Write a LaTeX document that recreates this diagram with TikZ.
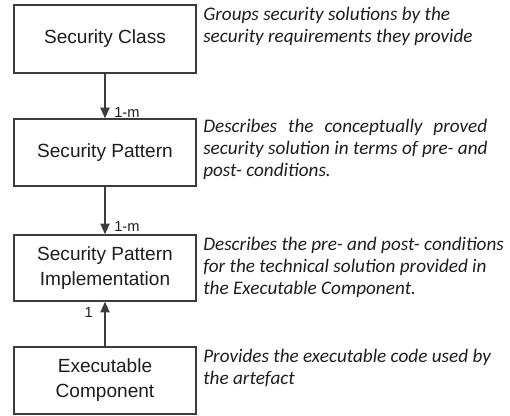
\documentclass[tikz,border=0pt]{standalone}
\usepackage{fontspec}
\setmainfont{Liberation Sans}
\newfontfamily\notefont{Carlito}
\usetikzlibrary{arrows.meta}
\definecolor{edge}{HTML}{3C3C3C}
\definecolor{ink}{HTML}{1E1E1E}
\tikzset{
  layer/.style={draw=edge, line width=1.1pt, fill=white, text=ink,
    minimum width=136.5pt, align=center, inner sep=0pt,
    font=\fontsize{14.3}{18.7}\selectfont},
  link/.style={draw=edge, line width=0.9pt,
    -{Triangle[width=7pt,length=8pt]}},
  mult/.style={text=ink, inner sep=0pt, font=\fontsize{11}{13}\selectfont},
  note/.style={text=ink, anchor=north west, inner sep=0pt, align=left,
    font=\notefont\itshape\fontsize{14.4}{16.5}\selectfont}
}
\begin{document}
\begin{tikzpicture}[x=0.75pt, y=-0.75pt]
  \useasboundingbox (0,0) rectangle (510,415);

  % the four layers of the model
  \node[layer, minimum height=51pt]    (cls)  at (105,39)    {Security Class};
  \node[layer, minimum height=50.25pt] (pat)  at (105,152.5) {Security Pattern};
  \node[layer, minimum height=49.5pt]  (impl) at (105,268)   {Security Pattern\\Implementation};
  \node[layer, minimum height=50.25pt] (exe)  at (105,380.5) {Executable\\Component};

  % relations with their multiplicities
  \draw[link] (cls) -- (pat);
  \draw[link] (pat) -- (impl);
  \draw[link] (exe) -- (impl);
  \node[mult, anchor=west] (m1) at (114,112.5) {1-m};
  \node[mult, anchor=west] (m2) at (114,226.5) {1-m};
  \node[mult, anchor=east] (m3) at (93,312)   {1};

  % descriptions beside each layer
  \node[note] (dcls) at (203,7)
    {Groups security solutions by the\\security requirements they provide};
  \node[note] (dpat) at (203,119)
    {\makebox[213pt][s]{Describes the conceptually proved}\\
     security solution in terms of pre- and\\post- conditions.};
  \node[note] (dimpl) at (203,237)
    {Describes the pre- and post- conditions\\for the technical solution provided in\\the Executable Component.};
  \node[note] (dexe) at (203,349)
    {Provides the executable code used by\\the artefact};
\end{tikzpicture}
\end{document}
